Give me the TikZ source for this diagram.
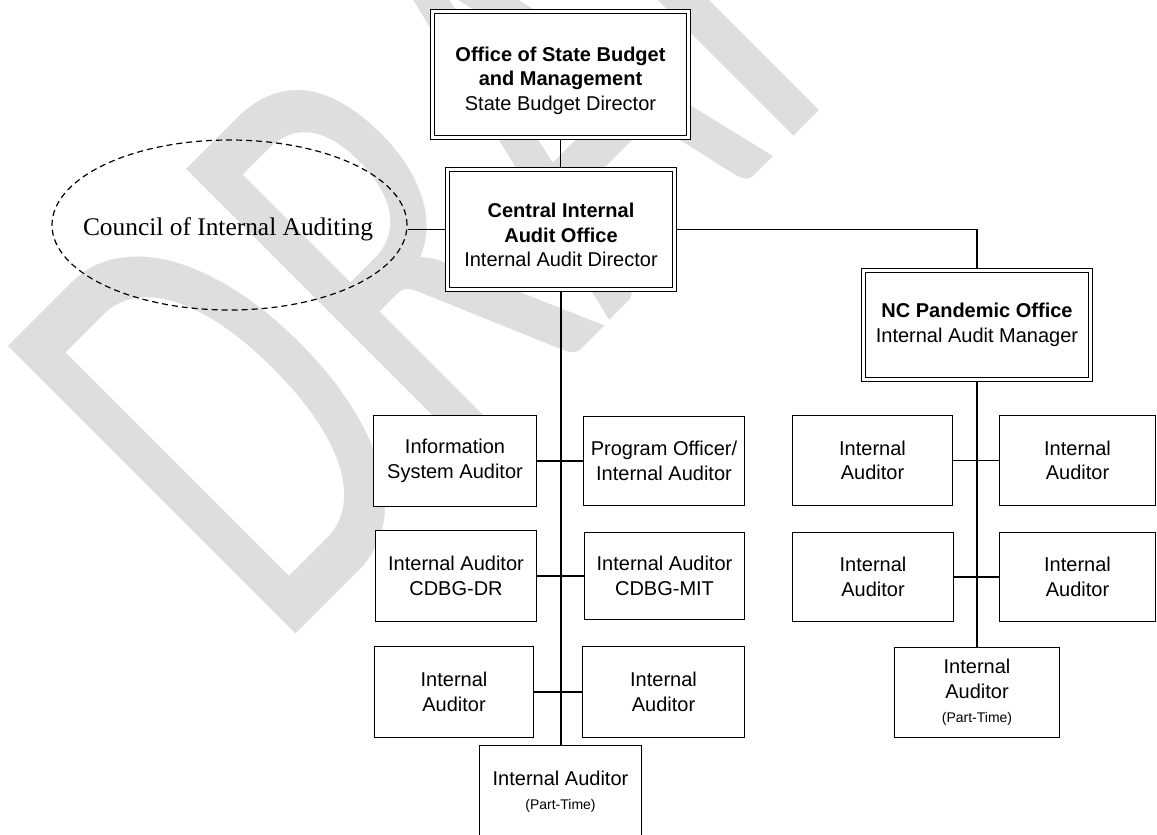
\documentclass[tikz,border=0pt]{standalone}
\usepackage{fontspec}
\setmainfont{Liberation Sans}
\newfontfamily\councilfont{Liberation Serif}
\newfontfamily\wmfont{Carlito}
\usetikzlibrary{shapes.geometric}
\definecolor{wmgray}{RGB}{222,222,222}
\pgfdeclarelayer{wm}
\pgfdeclarelayer{bg}
\pgfsetlayers{wm,bg,main}
\tikzset{
  box/.style={draw, line width=1.3pt, fill=white, inner sep=0pt, align=center,
    font=\fontsize{20}{24.5}\selectfont},
  dbox/.style={box, double, double distance=2.6pt, line width=1.2pt},
  boxtext/.style={inner sep=0pt, align=center, font=\fontsize{20}{24.5}\selectfont},
  conn/.style={line width=1.3pt},
  trunk/.style={line width=2.6pt},
  council/.style={ellipse, draw, dashed, dash pattern=on 6pt off 4pt, line width=1.2pt,
    inner sep=0pt, minimum width=355pt, minimum height=170pt},
  counciltext/.style={inner sep=0pt, font=\councilfont\fontsize{25.4}{30}\selectfont},
  wmark/.style={rotate=45, xscale=0.64, anchor=base west, inner sep=0pt, text=wmgray,
    font=\wmfont\fontsize{634}{634}\selectfont}
}
\newcommand\pt[1]{{\fontsize{14}{18}\selectfont #1}}
\begin{document}
\begin{tikzpicture}[x=1pt,y=-1pt]
\useasboundingbox (0,0) rectangle (1157,835);
% boxes
\node[dbox, minimum width=256pt, minimum height=126pt] (osbm) at (560.5,74.5) {};
\node[boxtext] (osbmt) at (560.5,80.5)
  {\textbf{Office of State Budget}\\\textbf{and Management}\\State Budget Director};
\node[dbox, minimum width=227pt, minimum height=120pt] (ciao) at (561,229.5) {};
\node[boxtext] (ciaot) at (561,235)
  {\textbf{Central Internal}\\\textbf{Audit Office}\\Internal Audit Director};
\node[council] (cia) at (229.5,225) {};
\node[counciltext] (ciat) at (228,229) {Council of Internal Auditing};
\node[dbox, minimum width=227pt, minimum height=109pt] (ncpo) at (977,325)
  {\textbf{NC Pandemic Office}\\Internal Audit Manager};
% left column
\node[box, minimum width=163pt, minimum height=91pt] (isa) at (455,461) {Information\\System Auditor};
\node[box, minimum width=161pt, minimum height=89pt] (poia) at (664,461) {Program Officer/\\Internal Auditor};
\node[box, minimum width=161pt, minimum height=91pt] (iadr) at (456,576) {Internal Auditor\\CDBG-DR};
\node[box, minimum width=160pt, minimum height=87pt] (iamit) at (664.5,576) {Internal Auditor\\CDBG-MIT};
\node[box, minimum width=159pt, minimum height=91pt] (ial) at (454,692) {Internal\\Auditor};
\node[box, minimum width=162pt, minimum height=91pt] (iar) at (663.5,692) {Internal\\Auditor};
\node[box, minimum width=162pt, minimum height=92pt] (iapt) at (560.5,791.5) {Internal Auditor\\\pt{(Part-Time)}};
% right column
\node[box, minimum width=160pt, minimum height=90pt] (r1l) at (872.5,460.5) {Internal\\Auditor};
\node[box, minimum width=156pt, minimum height=90pt] (r1r) at (1077.5,460.5) {Internal\\Auditor};
\node[box, minimum width=161pt, minimum height=89pt] (r2l) at (873,577) {Internal\\Auditor};
\node[box, minimum width=156pt, minimum height=89pt] (r2r) at (1077.5,577) {Internal\\Auditor};
\node[box, minimum width=165pt, minimum height=90pt] (rpt) at (977,692.5) {Internal\\Auditor\\\pt{(Part-Time)}};
% connectors
\begin{pgfonlayer}{bg}
\draw[conn] (osbm.south) -- (osbm.south |- ciao.north);
\draw[conn] (ciao.west) -- (ciao.west -| cia.east);
\draw[conn] (ciao.east) -| (ncpo.north);
\coordinate (lj) at (ciao.south |- ial.east);
\draw[trunk] (ciao.south) -- (lj);
\draw[conn] (lj) -- (lj |- iapt.north);
\draw[conn] (isa.east) -- (poia.west);
\draw[conn] (iadr.east) -- (iamit.west);
\draw[conn] (ial.east) -- (iar.west);
\coordinate (rj) at (ncpo.south |- r2l.east);
\draw[trunk] (ncpo.south) -- (rj);
\draw[conn] (rj) -- (rj |- rpt.north);
\draw[conn] (r1l.east) -- (r1r.west);
\draw[conn] (r2l.east) -- (r2r.west);
\end{pgfonlayer}
% watermark
\begin{pgfonlayer}{wm}
\node[wmark] (wm) at (276.5,654) {DRAFT};
\end{pgfonlayer}
\end{tikzpicture}
\end{document}
